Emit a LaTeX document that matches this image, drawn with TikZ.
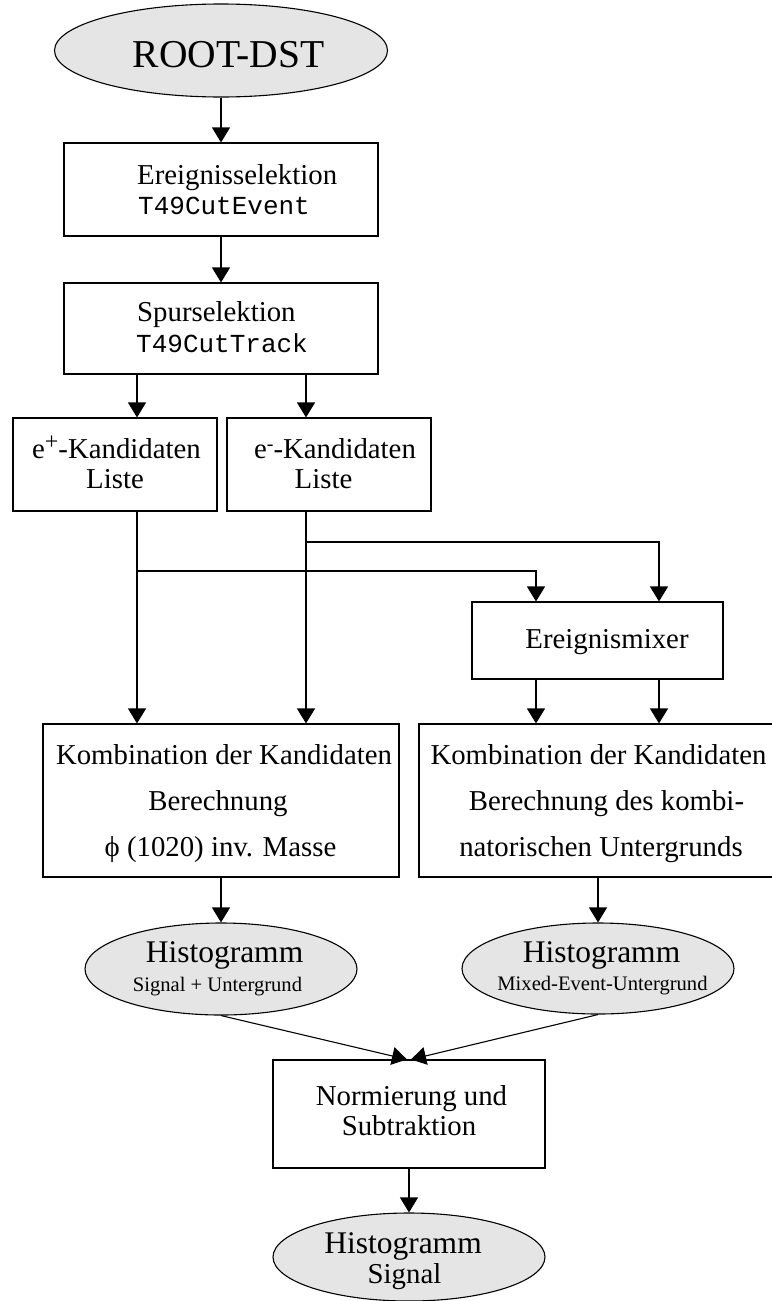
\documentclass[tikz,border=0pt]{standalone}
\usepackage{fontspec}
\setmainfont{Liberation Serif}
\setmonofont{Liberation Mono}
\usetikzlibrary{arrows.meta,shapes.geometric}
\newcommand{\mfs}{\fontsize{28.8pt}{30pt}\selectfont}
\newcommand{\tfs}{\fontsize{26pt}{30pt}\selectfont\ttfamily}
\newcommand{\hfs}{\fontsize{31.5pt}{32pt}\selectfont}
\newcommand{\sfs}{\fontsize{20.6pt}{22pt}\selectfont}
\newcommand{\rfs}{\fontsize{39.5pt}{42pt}\selectfont}
\newcommand{\suppl}{\raisebox{9pt}{\fontsize{24pt}{24pt}\selectfont +}}
\newcommand{\supmi}{\raisebox{8pt}{\fontsize{20pt}{20pt}\selectfont -}}
\tikzset{
  boxnode/.style={draw, line width=1.1pt, rectangle, inner sep=0pt},
  ellnode/.style={draw, line width=1.1pt, ellipse, fill=ellgray, inner sep=0pt},
  txt/.style={inner sep=0pt, anchor=base},
  txtw/.style={inner sep=0pt, anchor=base west},
  arr/.style={line width=1.1pt, -{Triangle[length=15pt,width=18pt]}}
}
\definecolor{ellgray}{HTML}{E5E5E5}
\begin{document}
\begin{tikzpicture}[x=1pt,y=-1pt]
\useasboundingbox (0,0) rectangle (771,1301);
% shapes
\node[ellnode, minimum width=333pt, minimum height=93pt] (root) at (221,50.5) {};
\node[boxnode, minimum width=314pt, minimum height=93pt] (b1) at (221,189.5) {};
\node[boxnode, minimum width=314pt, minimum height=91pt] (b2) at (221,328.5) {};
\node[boxnode, minimum width=204pt, minimum height=93pt] (ep) at (115,464.5) {};
\node[boxnode, minimum width=204pt, minimum height=93pt] (em) at (329,464.5) {};
\node[boxnode, minimum width=251pt, minimum height=77pt] (mx) at (597.5,640.5) {};
\node[boxnode, minimum width=356pt, minimum height=153pt] (kl) at (221,800.5) {};
\node[boxnode, minimum width=358pt, minimum height=153pt] (kr) at (598,800.5) {};
\node[ellnode, minimum width=272pt, minimum height=92pt] (hl) at (221,969) {};
\node[ellnode, minimum width=272pt, minimum height=91pt] (hr) at (598,968.5) {};
\node[boxnode, minimum width=272pt, minimum height=108pt] (nm) at (409,1114) {};
\node[ellnode, minimum width=272pt, minimum height=88pt] (hs) at (409,1257) {};
% texts
\node[txt, font=\rfs] (troot) at (228.5,67) {ROOT-DST};
\node[txtw, font=\mfs] (t1a) at (137,184) {Ereignisselektion};
\node[txtw, font=\tfs] (t1b) at (138,214) {T49CutEvent};
\node[txtw, font=\mfs] (t2a) at (137,321) {Spurselektion};
\node[txtw, font=\tfs] (t2b) at (136,352) {T49CutTrack};
\node[txt, font=\mfs] (tepa) at (116.5,458) {e\suppl-Kandidaten};
\node[txt, font=\mfs] (tepb) at (115,488) {Liste};
\node[txt, font=\mfs] (tema) at (335,458) {e\supmi-Kandidaten};
\node[txt, font=\mfs] (temb) at (323.5,488) {Liste};
\node[txt, font=\mfs] (tmx) at (607,648) {Ereignismixer};
\node[txt, font=\mfs] (tkla) at (224,764) {Kombination der Kandidaten};
\node[txt, font=\mfs] (tklb) at (218,810) {Berechnung};
\node[txt, font=\mfs] (tklc) at (220.5,856) {ϕ (1020) inv. Masse};
\node[txt, font=\mfs] (tkra) at (598.5,764) {Kombination der Kandidaten};
\node[txt, font=\mfs] (tkrb) at (606.5,810) {Berechnung des kombi-};
\node[txt, font=\mfs] (tkrc) at (601,856) {natorischen Untergrunds};
\node[txt, font=\hfs] (thla) at (224.5,962) {Histogramm};
\node[txt, font=\sfs] (thlb) at (217.5,991) {Signal + Untergrund};
\node[txt, font=\hfs] (thra) at (601.5,962) {Histogramm};
\node[txt, font=\sfs] (thrb) at (602.5,990) {Mixed-Event-Untergrund};
\node[txt, font=\mfs] (tnma) at (411.5,1105) {Normierung und};
\node[txt, font=\mfs] (tnmb) at (409,1135) {Subtraktion};
\node[txt, font=\hfs] (thsa) at (403,1253) {Histogramm};
\node[txt, font=\mfs] (thsb) at (404.5,1283) {Signal};
% helper coordinates
\coordinate (xL) at (137,0);
\coordinate (xR) at (306,0);
\coordinate (xM1) at (536,0);
\coordinate (xM2) at (659,0);
\coordinate (jL) at (137,571);
\coordinate (jR) at (306,542);
% connectors
\draw[arr] (root) -- (b1);
\draw[arr] (b1) -- (b2);
\draw[arr] (xL |- b2.south) -- (xL |- ep.north);
\draw[arr] (xR |- b2.south) -- (xR |- em.north);
\draw[arr] (xL |- ep.south) -- (xL |- kl.north);
\draw[arr] (xR |- em.south) -- (xR |- kl.north);
\draw[arr] (jL) -- (xM1 |- jL) -- (xM1 |- mx.north);
\draw[arr] (jR) -- (xM2 |- jR) -- (xM2 |- mx.north);
\draw[arr] (xM1 |- mx.south) -- (xM1 |- kr.north);
\draw[arr] (xM2 |- mx.south) -- (xM2 |- kr.north);
\draw[arr] (kl.south) -- (hl.north);
\draw[arr] (kr.south) -- (hr.north);
\draw[arr] (hl.south) -- ([xshift=-2pt]nm.north);
\draw[arr] (hr.south) -- ([xshift=2pt]nm.north);
\draw[arr] (nm) -- (hs);
\end{tikzpicture}
\end{document}
